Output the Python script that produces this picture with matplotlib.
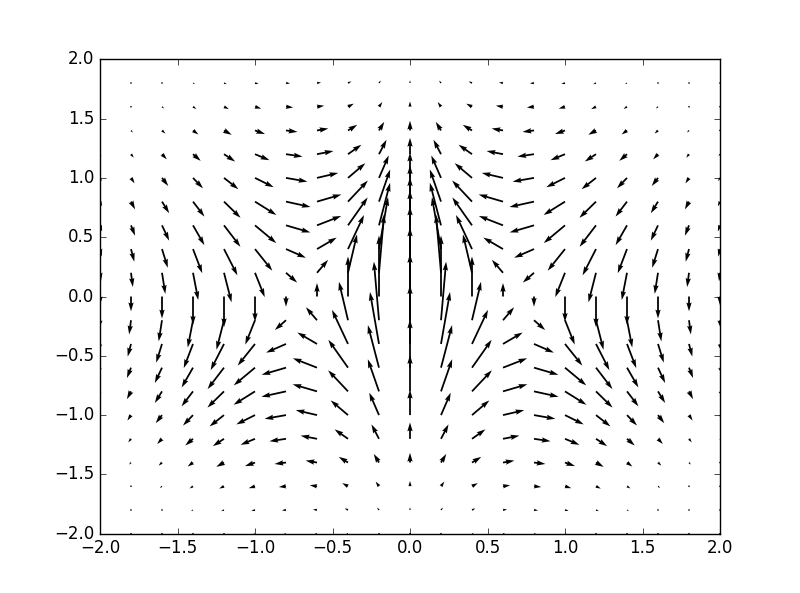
import numpy as np
import matplotlib
matplotlib.use("Agg")
import matplotlib.pyplot as plt

plt.style.use('classic')

# grid positions
x_vals = [-2.0, -1.8, -1.6, -1.4, -1.2, -1.0, -0.8, -0.6, -0.4, -0.2, 0.0,
          0.2, 0.4, 0.6, 0.8, 1.0, 1.2, 1.4, 1.6, 1.8, 2.0]
y_vals = [-2.0, -1.8, -1.6, -1.4, -1.2, -1.0, -0.8, -0.6, -0.4, -0.2, 0.0,
          0.2, 0.4, 0.6, 0.8, 1.0, 1.2, 1.4, 1.6, 1.8, 2.0]

# horizontal component, one row per y (bottom to top)
u_rows = [
    [-0.3, -0.5, -0.9, -1.4, -2.1, -2.7, -3.1, -3.1, -2.5, -1.4, 0, 1.4, 2.5, 3.1, 3.1, 2.7, 2.1, 1.4, 0.9, 0.5, 0.3],
    [-0.5, -1.0, -1.7, -2.8, -4.0, -5.2, -5.9, -5.9, -4.8, -2.7, 0, 2.7, 4.8, 5.9, 5.9, 5.2, 4.0, 2.8, 1.7, 1.0, 0.5],
    [-0.9, -1.7, -3.1, -4.9, -7.0, -9.1, -10.4, -10.4, -8.4, -4.8, 0, 4.8, 8.4, 10.4, 10.4, 9.1, 7.0, 4.9, 3.1, 1.7, 0.9],
    [-1.4, -2.8, -4.9, -7.8, -11.2, -14.5, -16.6, -16.5, -13.4, -7.6, 0, 7.6, 13.4, 16.5, 16.6, 14.5, 11.2, 7.8, 4.9, 2.8, 1.4],
    [-2.1, -4.0, -7.0, -11.2, -16.2, -20.9, -24.0, -23.8, -19.4, -10.9, 0, 10.9, 19.4, 23.8, 24.0, 20.9, 16.2, 11.2, 7.0, 4.0, 2.1],
    [-2.7, -5.2, -9.1, -14.5, -20.9, -27.1, -31.0, -30.8, -25.1, -14.1, 0, 14.1, 25.1, 30.8, 31.0, 27.1, 20.9, 14.5, 9.1, 5.2, 2.7],
    [-3.1, -5.9, -10.4, -16.6, -24.0, -31.0, -35.6, -35.3, -28.8, -16.2, 0, 16.2, 28.8, 35.3, 35.6, 31.0, 24.0, 16.6, 10.4, 5.9, 3.1],
    [-3.1, -5.9, -10.4, -16.5, -23.8, -30.8, -35.3, -35.0, -28.5, -16.1, 0, 16.1, 28.5, 35.0, 35.3, 30.8, 23.8, 16.5, 10.4, 5.9, 3.1],
    [-2.5, -4.8, -8.4, -13.4, -19.4, -25.1, -28.8, -28.5, -23.2, -13.1, 0, 13.1, 23.2, 28.5, 28.8, 25.1, 19.4, 13.4, 8.4, 4.8, 2.5],
    [-1.4, -2.7, -4.8, -7.6, -10.9, -14.1, -16.2, -16.1, -13.1, -7.4, 0, 7.4, 13.1, 16.1, 16.2, 14.1, 10.9, 7.6, 4.8, 2.7, 1.4],
    [0, 0, 0, 0, 0, 0, 0, 0, 0, 0, 0, 0, 0, 0, 0, 0, 0, 0, 0, 0, 0],
    [1.4, 2.7, 4.8, 7.6, 10.9, 14.1, 16.2, 16.1, 13.1, 7.4, 0, -7.4, -13.1, -16.1, -16.2, -14.1, -10.9, -7.6, -4.8, -2.7, -1.4],
    [2.5, 4.8, 8.4, 13.4, 19.4, 25.1, 28.8, 28.5, 23.2, 13.1, 0, -13.1, -23.2, -28.5, -28.8, -25.1, -19.4, -13.4, -8.4, -4.8, -2.5],
    [3.1, 5.9, 10.4, 16.5, 23.8, 30.8, 35.3, 35.0, 28.5, 16.1, 0, -16.1, -28.5, -35.0, -35.3, -30.8, -23.8, -16.5, -10.4, -5.9, -3.1],
    [3.1, 5.9, 10.4, 16.6, 24.0, 31.0, 35.6, 35.3, 28.8, 16.2, 0, -16.2, -28.8, -35.3, -35.6, -31.0, -24.0, -16.6, -10.4, -5.9, -3.1],
    [2.7, 5.2, 9.1, 14.5, 20.9, 27.1, 31.0, 30.8, 25.1, 14.1, 0, -14.1, -25.1, -30.8, -31.0, -27.1, -20.9, -14.5, -9.1, -5.2, -2.7],
    [2.1, 4.0, 7.0, 11.2, 16.2, 20.9, 24.0, 23.8, 19.4, 10.9, 0, -10.9, -19.4, -23.8, -24.0, -20.9, -16.2, -11.2, -7.0, -4.0, -2.1],
    [1.4, 2.8, 4.9, 7.8, 11.2, 14.5, 16.6, 16.5, 13.4, 7.6, 0, -7.6, -13.4, -16.5, -16.6, -14.5, -11.2, -7.8, -4.9, -2.8, -1.4],
    [0.9, 1.7, 3.1, 4.9, 7.0, 9.1, 10.4, 10.4, 8.4, 4.8, 0, -4.8, -8.4, -10.4, -10.4, -9.1, -7.0, -4.9, -3.1, -1.7, -0.9],
    [0.5, 1.0, 1.7, 2.8, 4.0, 5.2, 5.9, 5.9, 4.8, 2.7, 0, -2.7, -4.8, -5.9, -5.9, -5.2, -4.0, -2.8, -1.7, -1.0, -0.5],
    [0.3, 0.5, 0.9, 1.4, 2.1, 2.7, 3.1, 3.1, 2.5, 1.4, 0, -1.4, -2.5, -3.1, -3.1, -2.7, -2.1, -1.4, -0.9, -0.5, -0.3],
]

# vertical component, same layout
v_rows = [
    [-0.2, -0.4, -0.6, -0.8, -0.8, -0.7, -0.3, 0.4, 1.1, 1.6, 1.8, 1.6, 1.1, 0.4, -0.3, -0.7, -0.8, -0.8, -0.6, -0.4, -0.2],
    [-0.5, -0.8, -1.2, -1.6, -1.7, -1.4, -0.6, 0.8, 2.3, 3.5, 3.9, 3.5, 2.3, 0.8, -0.6, -1.4, -1.7, -1.6, -1.2, -0.8, -0.5],
    [-1.0, -1.7, -2.5, -3.2, -3.4, -2.8, -1.1, 1.5, 4.5, 6.8, 7.7, 6.8, 4.5, 1.5, -1.1, -2.8, -3.4, -3.2, -2.5, -1.7, -1.0],
    [-1.8, -3.0, -4.5, -5.8, -6.3, -5.2, -2.1, 2.8, 8.2, 12.5, 14.1, 12.5, 8.2, 2.8, -2.1, -5.2, -6.3, -5.8, -4.5, -3.0, -1.8],
    [-3.0, -5.1, -7.5, -9.7, -10.6, -8.7, -3.5, 4.6, 13.7, 20.9, 23.7, 20.9, 13.7, 4.6, -3.5, -8.7, -10.6, -9.7, -7.5, -5.1, -3.0],
    [-4.7, -7.9, -11.7, -15.1, -16.4, -13.5, -5.4, 7.2, 21.3, 32.5, 36.8, 32.5, 21.3, 7.2, -5.4, -13.5, -16.4, -15.1, -11.7, -7.9, -4.7],
    [-6.8, -11.3, -16.8, -21.7, -23.5, -19.4, -7.8, 10.3, 30.6, 46.6, 52.7, 46.6, 30.6, 10.3, -7.8, -19.4, -23.5, -21.7, -16.8, -11.3, -6.8],
    [-8.9, -15.0, -22.2, -28.7, -31.1, -25.7, -10.3, 13.6, 40.4, 61.7, 69.8, 61.7, 40.4, 13.6, -10.3, -25.7, -31.1, -28.7, -22.2, -15.0, -8.9],
    [-10.9, -18.3, -27.1, -35.0, -38.0, -31.4, -12.6, 16.6, 49.4, 75.3, 85.2, 75.3, 49.4, 16.6, -12.6, -31.4, -38.0, -35.0, -27.1, -18.3, -10.9],
    [-12.3, -20.6, -30.6, -39.5, -42.8, -35.3, -14.2, 18.8, 55.7, 84.9, 96.1, 84.9, 55.7, 18.8, -14.2, -35.3, -42.8, -39.5, -30.6, -20.6, -12.3],
    [-12.8, -21.5, -31.9, -41.1, -44.5, -36.8, -14.8, 19.5, 58.0, 88.4, 100.0, 88.4, 58.0, 19.5, -14.8, -36.8, -44.5, -41.1, -31.9, -21.5, -12.8],
    [-12.3, -20.6, -30.6, -39.5, -42.8, -35.3, -14.2, 18.8, 55.7, 84.9, 96.1, 84.9, 55.7, 18.8, -14.2, -35.3, -42.8, -39.5, -30.6, -20.6, -12.3],
    [-10.9, -18.3, -27.1, -35.0, -38.0, -31.4, -12.6, 16.6, 49.4, 75.3, 85.2, 75.3, 49.4, 16.6, -12.6, -31.4, -38.0, -35.0, -27.1, -18.3, -10.9],
    [-8.9, -15.0, -22.2, -28.7, -31.1, -25.7, -10.3, 13.6, 40.4, 61.7, 69.8, 61.7, 40.4, 13.6, -10.3, -25.7, -31.1, -28.7, -22.2, -15.0, -8.9],
    [-6.8, -11.3, -16.8, -21.7, -23.5, -19.4, -7.8, 10.3, 30.6, 46.6, 52.7, 46.6, 30.6, 10.3, -7.8, -19.4, -23.5, -21.7, -16.8, -11.3, -6.8],
    [-4.7, -7.9, -11.7, -15.1, -16.4, -13.5, -5.4, 7.2, 21.3, 32.5, 36.8, 32.5, 21.3, 7.2, -5.4, -13.5, -16.4, -15.1, -11.7, -7.9, -4.7],
    [-3.0, -5.1, -7.5, -9.7, -10.6, -8.7, -3.5, 4.6, 13.7, 20.9, 23.7, 20.9, 13.7, 4.6, -3.5, -8.7, -10.6, -9.7, -7.5, -5.1, -3.0],
    [-1.8, -3.0, -4.5, -5.8, -6.3, -5.2, -2.1, 2.8, 8.2, 12.5, 14.1, 12.5, 8.2, 2.8, -2.1, -5.2, -6.3, -5.8, -4.5, -3.0, -1.8],
    [-1.0, -1.7, -2.5, -3.2, -3.4, -2.8, -1.1, 1.5, 4.5, 6.8, 7.7, 6.8, 4.5, 1.5, -1.1, -2.8, -3.4, -3.2, -2.5, -1.7, -1.0],
    [-0.5, -0.8, -1.2, -1.6, -1.7, -1.4, -0.6, 0.8, 2.3, 3.5, 3.9, 3.5, 2.3, 0.8, -0.6, -1.4, -1.7, -1.6, -1.2, -0.8, -0.5],
    [-0.2, -0.4, -0.6, -0.8, -0.8, -0.7, -0.3, 0.4, 1.1, 1.6, 1.8, 1.6, 1.1, 0.4, -0.3, -0.7, -0.8, -0.8, -0.6, -0.4, -0.2],
]

X, Y = np.meshgrid(x_vals, y_vals)
U = np.array(u_rows)
V = np.array(v_rows)

fig = plt.figure(figsize=(8, 5.93), dpi=100, facecolor='white')
ax = fig.add_subplot(111)
ax.quiver(X, Y, U, V, color='k', scale_units='inches', scale=145)
ax.set_xlim(-2, 2)
ax.set_ylim(-2, 2)

fig.savefig('out.png', dpi=100, facecolor='white')
